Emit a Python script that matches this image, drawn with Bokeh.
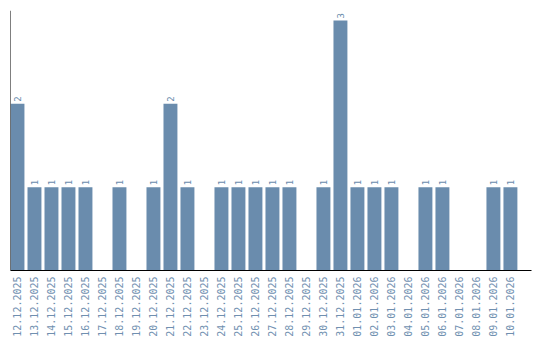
import math
from bokeh.plotting import figure
from bokeh.models import ColumnDataSource, Range1d, FixedTicker, Span
from bokeh.core.properties import value
from bokeh.embed import file_html
from bokeh.resources import INLINE

dates = ["12.12.2025", "13.12.2025", "14.12.2025", "15.12.2025", "16.12.2025",
         "17.12.2025", "18.12.2025", "19.12.2025", "20.12.2025", "21.12.2025",
         "22.12.2025", "23.12.2025", "24.12.2025", "25.12.2025", "26.12.2025",
         "27.12.2025", "28.12.2025", "29.12.2025", "30.12.2025", "31.12.2025",
         "01.01.2026", "02.01.2026", "03.01.2026", "04.01.2026", "05.01.2026",
         "06.01.2026", "07.01.2026", "08.01.2026", "09.01.2026", "10.01.2026"]
counts = [2, 1, 1, 1, 1, 0, 1, 0, 1, 2,
          1, 0, 1, 1, 1, 1, 1, 0, 1, 3,
          1, 1, 1, 0, 1, 1, 0, 0, 1, 1]

BAR = "#6a8cad"
xs = [i + 0.41 for i in range(len(dates))]
src = ColumnDataSource(dict(x=xs, top=counts))
lab = ColumnDataSource(dict(
    x=[x for x, c in zip(xs, counts) if c > 0],
    y=[c for c in counts if c > 0],
    t=[str(c) for c in counts if c > 0]))

p = figure(width=540, height=340, output_backend="svg", toolbar_location=None,
           x_range=Range1d(0, 30.65), y_range=Range1d(0, 3.12),
           min_border_left=10, min_border_right=9, min_border_top=10,
           min_border_bottom=70)
p.outline_line_color = None
p.xgrid.visible = False
p.ygrid.visible = False
p.yaxis.visible = False
p.background_fill_color = "white"
p.border_fill_color = "white"

p.vbar(x="x", top="top", width=0.82, bottom=0, source=src, color=BAR, line_color=None)

p.text(x="x", y="y", text="t", source=lab, angle=math.pi / 2,
       text_align="left", text_baseline="middle", y_offset=-2,
       text_font=value("DejaVu Sans Mono"), text_font_size="9px", text_color=BAR)

p.add_layout(Span(location=0, dimension="height", line_color="black", line_width=1))

ax = p.xaxis[0]
ax.ticker = FixedTicker(ticks=xs)
ax.major_label_overrides = {x: d for x, d in zip(xs, dates)}
ax.major_label_orientation = math.pi / 2
ax.major_label_text_font = "DejaVu Sans Mono"
ax.major_label_text_font_size = "10px"
ax.major_label_text_color = "#7090b0"
ax.major_label_standoff = 6
ax.major_tick_out = 0
ax.major_tick_in = 0
ax.minor_tick_out = 0
ax.minor_tick_in = 0
ax.major_tick_line_color = None
ax.minor_tick_line_color = None
ax.axis_line_color = "black"
ax.axis_line_width = 1

open("out.html", "w").write(file_html(p, INLINE))
